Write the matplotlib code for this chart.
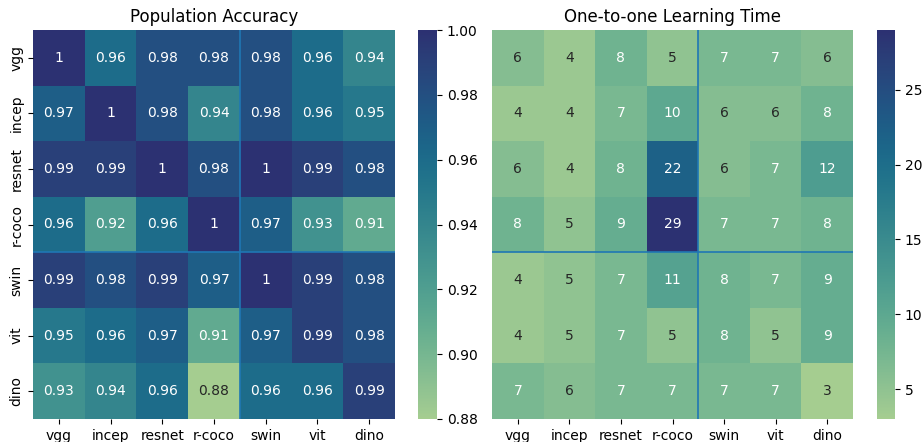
import numpy as np
import matplotlib
matplotlib.use("Agg")
import matplotlib.pyplot as plt
import seaborn as sns

models = ['vgg', 'incep', 'resnet', 'r-coco', 'swin', 'vit', 'dino']

# population accuracy (rows / cols in model order)
accuracy = np.array([
    [1.00, 0.96, 0.98, 0.98, 0.98, 0.96, 0.94],
    [0.97, 1.00, 0.98, 0.94, 0.98, 0.96, 0.95],
    [0.99, 0.99, 1.00, 0.98, 1.00, 0.99, 0.98],
    [0.96, 0.92, 0.96, 1.00, 0.97, 0.93, 0.91],
    [0.99, 0.98, 0.99, 0.97, 1.00, 0.99, 0.98],
    [0.95, 0.96, 0.97, 0.91, 0.97, 0.99, 0.98],
    [0.93, 0.94, 0.96, 0.88, 0.96, 0.96, 0.99],
])

# one-to-one learning time (epochs)
learn_time = np.array([
    [6, 4, 8, 5, 7, 7, 6],
    [4, 4, 7, 10, 6, 6, 8],
    [6, 4, 8, 22, 6, 7, 12],
    [8, 5, 9, 29, 7, 7, 8],
    [4, 5, 7, 11, 8, 7, 9],
    [4, 5, 7, 5, 8, 5, 9],
    [7, 6, 7, 7, 7, 7, 3],
])

W, H = 922, 442
fig = plt.figure(figsize=(W / 100, H / 100), dpi=100)


def box(x0, y0, x1, y1):
    # pixel box -> figure fraction
    return [x0 / W, 1 - y1 / H, (x1 - x0) / W, (y1 - y0) / H]


ax1 = fig.add_axes(box(33, 30, 395, 419))
cax1 = fig.add_axes(box(418, 30, 437, 419))
ax2 = fig.add_axes(box(492, 30, 853, 419))
cax2 = fig.add_axes(box(877, 30, 895, 419))

sns.heatmap(accuracy, ax=ax1, cbar_ax=cax1, cmap='crest', annot=True,
            xticklabels=models, yticklabels=models)
ax1.set_title('Population Accuracy')
ax1.axvline(4, color='#1f77b4', linewidth=1.2)
ax1.axhline(4, color='#1f77b4', linewidth=1.2)
cax1.set_yticks([0.88, 0.90, 0.92, 0.94, 0.96, 0.98, 1.00])

sns.heatmap(learn_time, ax=ax2, cbar_ax=cax2, cmap='crest', annot=True,
            xticklabels=models, yticklabels=False)
ax2.set_title('One-to-one Learning Time')
ax2.axvline(4, color='#1f77b4', linewidth=1.2)
ax2.axhline(4, color='#1f77b4', linewidth=1.2)

# label colours as in the original render (light text from 7 up)
for txt in ax2.texts:
    try:
        v = float(txt.get_text())
    except ValueError:
        continue
    txt.set_color('w' if v >= 7 else '.15')

for cax in (cax1, cax2):
    cax.tick_params(labelsize=10)

fig.savefig('out.png', dpi=100)
